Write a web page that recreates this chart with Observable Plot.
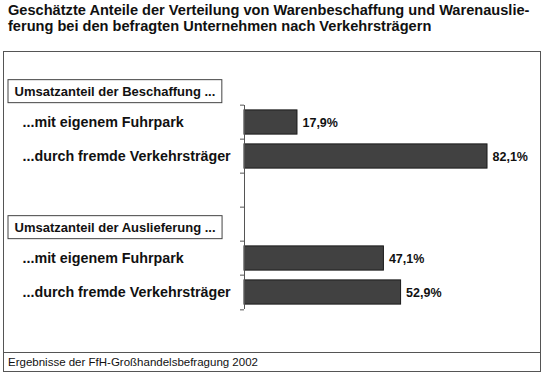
<!DOCTYPE html>
<html>
<head>
<meta charset="utf-8">
<script src="https://cdn.jsdelivr.net/npm/d3@7"></script>
<script src="https://cdn.jsdelivr.net/npm/@observablehq/plot@0.6"></script>
<style>
  html, body { margin: 0; padding: 0; background: #fff; }
  body { width: 545px; height: 380px; position: relative; font-family: "Liberation Sans", Arial, sans-serif; }
  #title { position: absolute; left: 8px; top: 2px; width: 537px; white-space: nowrap; font-weight: bold; font-size: 14.6px; line-height: 16px; color: #111; }
  #box { position: absolute; left: 3px; top: 51px; width: 536px; border: 1px solid #555; background: #fff; }
  #chart svg { display: block; }
  #caption { border-top: 1px solid #555; height: 19px; line-height: 18px; font-size: 11.5px; padding-left: 4px; color: #111; box-sizing: border-box; }
</style>
</head>
<body>
<div id="title">Geschätzte Anteile der Verteilung von Warenbeschaffung und Warenauslie-<br>ferung bei den befragten Unternehmen nach Verkehrsträgern</div>
<div id="box">
  <div id="chart"></div>
  <div id="caption">Ergebnisse der FfH-Großhandelsbefragung 2002</div>
</div>
<script>
// ---- data ----
const groups = ["Umsatzanteil der Beschaffung ...", "Umsatzanteil der Auslieferung ..."];
const categories = ["...mit eigenem Fuhrpark", "...durch fremde Verkehrsträger"];
const beschaffung = [17.9, 82.1];
const auslieferung = [47.1, 52.9];
const rowOrder = ["H1", "B1", "B2", "gap", "H2", "A1", "A2"];

// ---- tables built from the arrays ----
const bars = [
  {row: "B1", label: categories[0], value: beschaffung[0]},
  {row: "B2", label: categories[1], value: beschaffung[1]},
  {row: "A1", label: categories[0], value: auslieferung[0]},
  {row: "A2", label: categories[1], value: auslieferung[1]}
];
const headers = [
  {row: "H1", label: groups[0]},
  {row: "H2", label: groups[1]}
];
const axisRows = rowOrder.slice(1);
const fmt = d => d.value.toFixed(1).replace(".", ",") + "%";

const W = 536, H = 300, mt = 16, mb = 41, ml = 240, mr = 0;
const step = (H - mt - mb) / rowOrder.length;
const axisColor = "#555";

const chart = Plot.plot({
  width: W,
  height: H,
  marginTop: mt,
  marginBottom: mb,
  marginLeft: ml,
  marginRight: mr,
  style: {fontFamily: "'Liberation Sans', Arial, sans-serif", background: "#fff", overflow: "visible"},
  x: {domain: [0, 100], axis: null},
  y: {type: "band", domain: rowOrder, padding: 0, axis: null},
  marks: [
    Plot.barX(bars, {x: "value", y: "row", fill: "#414141", stroke: "#1a1a1a", strokeWidth: 1, insetTop: 4.9, insetBottom: 4.9}),
    Plot.ruleX([{y1: axisRows[0], y2: axisRows[axisRows.length - 1]}], {x: 0, y1: "y1", y2: "y2", stroke: axisColor}),
    Plot.ruleY(axisRows, {y: d => d, x1: 0, x2: 0, insetLeft: -4, dy: -step / 2, stroke: axisColor}),
    Plot.ruleY(axisRows.slice(-1), {y: d => d, x1: 0, x2: 0, insetLeft: -4, dy: step / 2, stroke: axisColor}),
    Plot.text(bars, {x: "value", y: "row", text: fmt, dx: 5, textAnchor: "start", fontWeight: "bold", fontSize: 12.5, fill: "#111"}),
    Plot.text(bars, {y: "row", text: "label", frameAnchor: "left", textAnchor: "start", dx: -222, fontWeight: "bold", fontSize: 14.3, fill: "#111"}),
    Plot.text(headers, {y: "row", text: "label", frameAnchor: "left", textAnchor: "start", dx: -230, dy: 3, fontWeight: "bold", fontSize: 13, fill: "#111"})
  ]
});
document.getElementById("chart").appendChild(chart);

// draw boxes around the group header labels
const svg = d3.select(chart.tagName.toLowerCase() === "svg" ? chart : chart.querySelector("svg"));
svg.selectAll("text").each(function() {
  if (!groups.includes(this.textContent)) return;
  const b = this.getBBox();
  const padX = 6.5, padY = 4;
  const r = document.createElementNS("http://www.w3.org/2000/svg", "rect");
  r.setAttribute("x", b.x - padX);
  r.setAttribute("y", b.y - padY);
  r.setAttribute("width", b.width + 2 * padX);
  r.setAttribute("height", b.height + 2 * padY);
  r.setAttribute("fill", "#fff");
  r.setAttribute("stroke", "#444");
  r.setAttribute("stroke-width", 1);
  const t = this.getAttribute("transform");
  if (t) r.setAttribute("transform", t);
  this.parentNode.insertBefore(r, this);
});
</script>
</body>
</html>
